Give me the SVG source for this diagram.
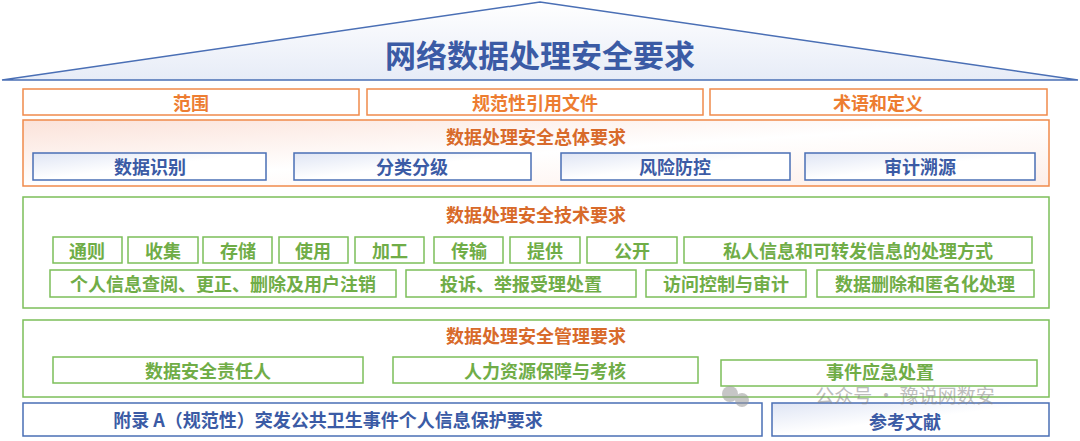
<svg xmlns="http://www.w3.org/2000/svg" width="1080" height="441" viewBox="0 0 1080 441">
<defs>
<linearGradient id="gb" x1="0" y1="0" x2="1" y2="1"><stop offset="0" stop-color="#dfe5f4"/><stop offset="0.5" stop-color="#ffffff"/></linearGradient>
<linearGradient id="go" x1="0" y1="0" x2="1" y2="1"><stop offset="0" stop-color="#fbe2d9"/><stop offset="0.5" stop-color="#ffffff"/><stop offset="1" stop-color="#fdeee8"/></linearGradient>
<linearGradient id="gr" x1="0" y1="0" x2="0" y2="1"><stop offset="0" stop-color="#ffffff"/><stop offset="1" stop-color="#e7ecf7"/></linearGradient>
<style>
text{font-family:"Noto Sans CJK SC","Noto Sans",sans-serif;font-weight:bold;text-anchor:middle;dominant-baseline:central}
.o rect{fill:#fff;stroke:#f08a4b;stroke-width:1.5}
.o text{fill:#ed7d31;font-size:18px}
.b rect{fill:url(#gb);stroke:#4a6fb5;stroke-width:1.5}
.b text{fill:#3b5ba5;font-size:18px}
.g rect{fill:#fff;stroke:#7cbf5a;stroke-width:1.5}
.g text{fill:#70ad47;font-size:18px}
.h{fill:#d86a2a;font-size:18px}
</style>
</defs>
<g id="roof"><polygon points="2,80 540,2 1078,80" fill="url(#gr)" stroke="#4a6fb5" stroke-width="1.5"/><text x="540" y="53" font-size="31" fill="#3b5ba5">网络数据处理安全要求</text></g>
<g class="o" id="r1"><rect x="23" y="89" width="336" height="26"/><text x="191" y="102">范围</text>
<rect x="367" y="89" width="336" height="26"/><text x="535" y="102">规范性引用文件</text>
<rect x="710" y="89" width="337" height="26"/><text x="878" y="102">术语和定义</text></g>
<g id="overall"><rect x="23" y="120" width="1026" height="66" fill="url(#go)" stroke="#f08a4b" stroke-width="1.5"/><text class="h" x="536" y="136">数据处理安全总体要求</text>
<g class="b"><rect x="33" y="153" width="233" height="27"/><text x="150" y="166">数据识别</text>
<rect x="294" y="153" width="237" height="27"/><text x="412" y="166">分类分级</text>
<rect x="561" y="153" width="229" height="27"/><text x="675" y="166">风险防控</text>
<rect x="805" y="153" width="230" height="27"/><text x="920" y="166">审计溯源</text></g></g>
<g id="tech"><rect x="23" y="197" width="1026" height="111" fill="#fff" stroke="#7cbf5a" stroke-width="1.5"/><text class="h" x="536" y="214">数据处理安全技术要求</text>
<g class="g">
<rect x="53" y="237" width="69" height="26"/><text x="87" y="250">通则</text>
<rect x="128" y="237" width="70" height="26"/><text x="163" y="250">收集</text>
<rect x="203" y="237" width="69" height="26"/><text x="238" y="250">存储</text>
<rect x="279" y="237" width="69" height="26"/><text x="313" y="250">使用</text>
<rect x="355" y="237" width="69" height="26"/><text x="390" y="250">加工</text>
<rect x="434" y="237" width="69" height="26"/><text x="469" y="250">传输</text>
<rect x="510" y="237" width="70" height="26"/><text x="545" y="250">提供</text>
<rect x="587" y="237" width="90" height="26"/><text x="632" y="250">公开</text>
<rect x="684" y="237" width="348" height="26"/><text x="858" y="250">私人信息和可转发信息的处理方式</text>
<rect x="50" y="270" width="346" height="27"/><text x="223" y="283">个人信息查阅、更正、删除及用户注销</text>
<rect x="406" y="270" width="230" height="27"/><text x="521" y="283">投诉、举报受理处置</text>
<rect x="646" y="270" width="160" height="27"/><text x="726" y="283">访问控制与审计</text>
<rect x="817" y="270" width="217" height="27"/><text x="925" y="283">数据删除和匿名化处理</text></g></g>
<g id="mgmt"><rect x="23" y="320" width="1026" height="77" fill="#fff" stroke="#7cbf5a" stroke-width="1.5"/><text class="h" x="536" y="335">数据处理安全管理要求</text>
<g class="g"><rect x="53" y="357" width="310" height="26"/><text x="208" y="370">数据安全责任人</text>
<rect x="393" y="357" width="305" height="26"/><text x="545" y="370">人力资源保障与考核</text>
<rect x="721" y="360" width="316" height="26"/><text x="880" y="371">事件应急处置</text></g></g>
<g class="b" id="bottom"><rect x="23" y="403" width="739" height="33" style="fill:#fff"/><text x="328" y="419">附录 A（规范性）突发公共卫生事件个人信息保护要求</text>
<rect x="772" y="403" width="277" height="33"/><text x="905" y="421">参考文献</text></g>
<g id="watermark" opacity="0.55"><circle cx="730" cy="394" r="8" fill="#999"/><circle cx="742" cy="400" r="7" fill="#999"/><text x="905" y="394" font-size="19" fill="#888" style="font-weight:normal">公众号 · 豫说网数安</text></g>
</svg>
